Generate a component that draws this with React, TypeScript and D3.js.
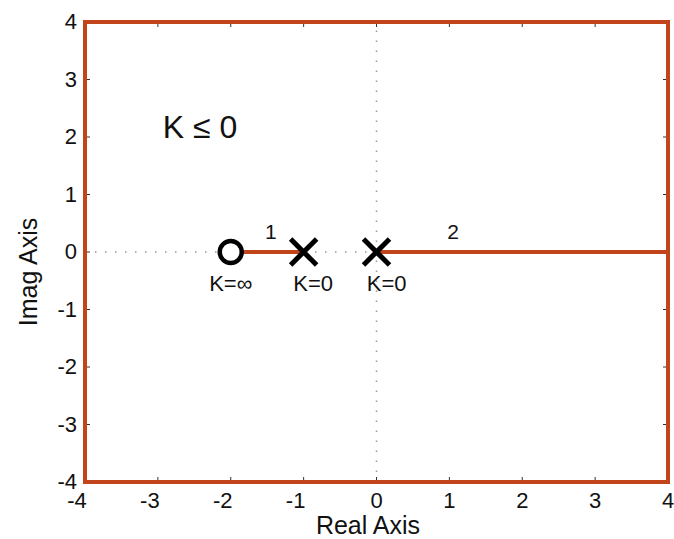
import React from "react";
import * as d3 from "d3";

const xTicks = [-4, -3, -2, -1, 0, 1, 2, 3, 4];
const yTicks = [-4, -3, -2, -1, 0, 1, 2, 3, 4];
const branch1 = [[-2, 0], [-1, 0]];
const branch2 = [[0, 0], [4, 0]];
const zeros = [[-2, 0]];
const poles = [[-1, 0], [0, 0]];
const pointLabels = [
  { x: -2.0, y: 0, text: "K=∞" },
  { x: -0.87, y: 0, text: "K=0" },
  { x: 0.14, y: 0, text: "K=0" },
];
const branchLabels = [
  { x: -1.45, y: 0, text: "1" },
  { x: 1.05, y: 0, text: "2" },
];

const W = 674, H = 539;
const L = 85, R = 668, T = 22, B = 482;
const ORANGE = "#c1441a";
const FONT = "'Liberation Sans', Arial, Helvetica, sans-serif";

export default function App() {
  const x = d3.scaleLinear().domain([-4, 4]).range([L, R]);
  const y = d3.scaleLinear().domain([-4, 4]).range([B, T]);
  const line = d3.line<number[]>().x(d => x(d[0])).y(d => y(d[1]));
  const s = 13;
  return (
    <svg width={W} height={H} style={{ position: "absolute", left: 0, top: 0, background: "#fff" }}>
      {/* dotted axes */}
      <line x1={x(-4)} x2={x(4)} y1={y(0)} y2={y(0)} stroke="#999" strokeWidth={1.5} strokeDasharray="1.5 8.5" />
      <line x1={x(0)} x2={x(0)} y1={y(-4)} y2={y(4)} stroke="#999" strokeWidth={1.5} strokeDasharray="1.5 8.5" />
      {/* ticks */}
      {xTicks.map(t => (
        <g key={"xt" + t}>
          <line x1={x(t)} x2={x(t)} y1={B} y2={B - 5} stroke="#333" strokeWidth={1} />
          <line x1={x(t)} x2={x(t)} y1={T} y2={T + 5} stroke="#333" strokeWidth={1} />
          <text x={x(t) + (t < 0 ? -8 : 0)} y={B + 26} textAnchor="middle" fontFamily={FONT} fontSize={22} fill="#111">{t}</text>
        </g>
      ))}
      {yTicks.map(t => (
        <g key={"yt" + t}>
          <line x1={L} x2={L + 5} y1={y(t)} y2={y(t)} stroke="#333" strokeWidth={1} />
          <line x1={R} x2={R - 5} y1={y(t)} y2={y(t)} stroke="#333" strokeWidth={1} />
          <text x={L - 8} y={y(t) + 7} textAnchor="end" fontFamily={FONT} fontSize={22} fill="#111">{t}</text>
        </g>
      ))}
      {/* frame */}
      <rect x={L} y={T} width={R - L} height={B - T} fill="none" stroke={ORANGE} strokeWidth={4} />
      {/* root locus branches */}
      <path d={line(branch1 as any) || ""} stroke={ORANGE} strokeWidth={4} fill="none" />
      <path d={line(branch2 as any) || ""} stroke={ORANGE} strokeWidth={4} fill="none" />
      {/* zeros */}
      {zeros.map((p, i) => (
        <circle key={"z" + i} cx={x(p[0])} cy={y(p[1])} r={11} fill="#fff" stroke="#000" strokeWidth={4.5} />
      ))}
      {/* poles */}
      {poles.map((p, i) => (
        <g key={"p" + i} stroke="#000" strokeWidth={5}>
          <line x1={x(p[0]) - s} x2={x(p[0]) + s} y1={y(p[1]) - s} y2={y(p[1]) + s} />
          <line x1={x(p[0]) - s} x2={x(p[0]) + s} y1={y(p[1]) + s} y2={y(p[1]) - s} />
        </g>
      ))}
      {pointLabels.map((l, i) => (
        <text key={"pl" + i} x={x(l.x)} y={y(l.y) + 39} textAnchor="middle" fontFamily={FONT} fontSize={22} fill="#111">{l.text}</text>
      ))}
      {branchLabels.map((l, i) => (
        <text key={"bl" + i} x={x(l.x)} y={y(l.y) - 13} textAnchor="middle" fontFamily={FONT} fontSize={21} fill="#111">{l.text}</text>
      ))}
      <text x={200} y={138} textAnchor="middle" fontFamily={FONT} fontSize={32} fill="#111">K ≤ 0</text>
      <text x={368} y={534} textAnchor="middle" fontFamily={FONT} fontSize={25} fill="#111">Real Axis</text>
      <text transform={`translate(37, 272) rotate(-90)`} textAnchor="middle" fontFamily={FONT} fontSize={25} fill="#111">Imag Axis</text>
    </svg>
  );
}
